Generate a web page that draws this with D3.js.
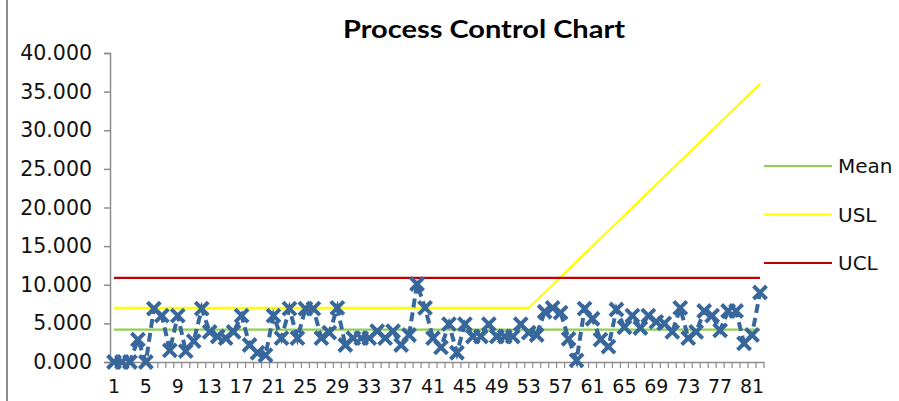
<!DOCTYPE html>
<html><head><meta charset="utf-8">
<script src="https://cdn.jsdelivr.net/npm/d3@7"></script>
<style>body{margin:0;background:#fff}svg{display:block}</style>
</head><body>
<svg id="c" width="899" height="401"></svg>
<script>
const categories = d3.range(1, 83).map(String);
const processValues = [0,0,0,2.9,0,6.9,6.0,1.5,6.0,1.4,2.7,6.9,3.9,3.3,3.1,3.9,6.0,2.2,1.2,0.9,
  6.0,3.1,6.9,3.1,6.9,6.9,3.1,3.8,7.0,2.2,3.1,3.1,3.1,4.0,3.1,4.0,2.2,3.5,10.1,7.0,
  3.1,1.9,4.9,1.2,4.9,3.3,3.3,4.9,3.3,3.3,3.3,4.9,3.8,3.5,6.5,7.0,6.4,3.0,0.2,6.9,
  5.6,2.9,2.0,6.8,4.5,6.0,4.4,6.0,5.2,5.0,3.9,7.0,3.1,3.9,6.6,6.0,4.1,6.6,6.6,2.4,3.5,9.0];
const meanValues = categories.map(() => 4.2);
const uclValues = categories.map(() => 10.9);
const uslValues = [7,7,7,7,7,7,7,7,7,7,7,7,7,7,7,7,7,7,7,7,7,7,7,7,7,7,7,7,7,7,
  7,7,7,7,7,7,7,7,7,7,7,7,7,7,7,7,7,7,7,7,7,7,7,
  8,9,10,11,12,13,14,15,16,17,18,19,20,21,22,23,24,25,26,27,28,29,30,31,32,33,34,35,36];
const yTicks = [0,5,10,15,20,25,30,35,40];
const xTickLabels = categories.filter((d,i) => i % 4 === 0);
const legendItems = [{name:"Mean", color:"#92D050"},{name:"USL", color:"#FFFF00"},{name:"UCL", color:"#C00000"}];

const svg = d3.select("#c");
const L = 110, R = 764, T = 53, B = 362;
const x = d3.scaleBand().domain(categories).range([L, R]);
const y = d3.scaleLinear().domain([0, 40]).range([B, T]);
const cx = d => x(d) + x.bandwidth()/2;
const font = "DejaVu Sans, Verdana, sans-serif";

// left border
svg.append("line").attr("x1",7).attr("x2",7).attr("y1",0).attr("y2",401)
  .attr("stroke","#8c8c8c").attr("stroke-width",2);

// title
svg.append("text").attr("x",484).attr("y",38).attr("text-anchor","middle")
  .attr("font-family","Lato, 'Open Sans', sans-serif").attr("font-weight","bold")
  .attr("font-size",24).attr("textLength",282).attr("lengthAdjust","spacingAndGlyphs")
  .text("Process Control Chart");

// y axis
const yAxis = d3.axisLeft(y).tickValues(yTicks).tickFormat(d3.format(".3f")).tickSizeOuter(0).tickSize(6).tickPadding(12);
const gy = svg.append("g").attr("transform",`translate(${L},0)`).call(yAxis);
gy.select(".domain").attr("stroke","#8c8c8c").attr("stroke-width",1.5);
gy.selectAll(".tick line").attr("stroke","#8c8c8c").attr("stroke-width",1.5);
gy.selectAll("text").attr("font-family",font).attr("font-size",20.5).attr("fill","#111");

// x axis
const xAxis = d3.axisBottom(x).tickValues([]).tickSizeOuter(0);
const gx = svg.append("g").attr("transform",`translate(0,${B})`).call(xAxis);
gx.select(".domain").attr("stroke","#8c8c8c").attr("stroke-width",1.5);
gx.selectAll(".xt").data(categories.slice(1)).enter().append("line")
  .attr("x1",d=>x(d)).attr("x2",d=>x(d)).attr("y1",0).attr("y2",6)
  .attr("stroke","#8c8c8c").attr("stroke-width",1.2);
gx.append("line").attr("x1",R).attr("x2",R).attr("y1",0).attr("y2",6).attr("stroke","#8c8c8c").attr("stroke-width",1.2);
gx.selectAll(".xl").data(xTickLabels).enter().append("text")
  .attr("x",d=>cx(d)).attr("y",31).attr("text-anchor","middle")
  .attr("font-family",font).attr("font-size",19).attr("fill","#111").text(d=>d);

const line = d3.line().x((d,i)=>cx(categories[i])).y(d=>y(d));
svg.append("path").datum(meanValues).attr("d",line).attr("fill","none").attr("stroke","#92D050").attr("stroke-width",2.2);
svg.append("path").datum(uslValues).attr("d",line).attr("fill","none").attr("stroke","#FFFF00").attr("stroke-width",2.2);
svg.append("path").datum(uclValues).attr("d",line).attr("fill","none").attr("stroke","#C00000").attr("stroke-width",2.2);

// process series
const blue = "#38679B";
svg.append("path").datum(processValues).attr("d",line).attr("fill","none")
  .attr("stroke",blue).attr("stroke-width",4).attr("stroke-dasharray","9,5");
const s = 6.5;
svg.selectAll(".mk").data(processValues).enter().append("path")
  .attr("d",(d,i)=>{const px=cx(categories[i]), py=y(d);
     return `M${px-s},${py-s}L${px+s},${py+s}M${px+s},${py-s}L${px-s},${py+s}`;})
  .attr("stroke",blue).attr("stroke-width",4).attr("fill","none");

// legend
const lg = svg.append("g");
legendItems.forEach((it,i)=>{
  const ly = 166 + i*48.5;
  lg.append("line").attr("x1",764).attr("x2",832).attr("y1",ly).attr("y2",ly).attr("stroke",it.color).attr("stroke-width",2.2);
  lg.append("text").attr("x",838).attr("y",ly).attr("dy","0.35em").attr("font-family",font).attr("font-size",20).attr("fill","#111").text(it.name);
});
</script>
</body></html>
